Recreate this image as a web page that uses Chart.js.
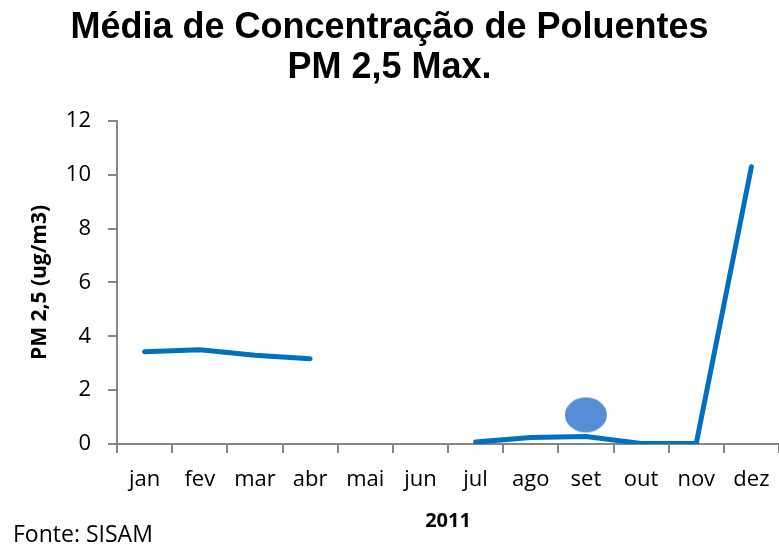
<!DOCTYPE html>
<html>
<head>
<meta charset="utf-8">
<script src="https://cdn.jsdelivr.net/npm/chart.js@4.4.1/dist/chart.umd.min.js"></script>
<style>
  html, body { margin: 0; padding: 0; background: #fff; }
  #wrap { width: 779px; height: 544px; }
</style>
</head>
<body>
<div id="wrap"><canvas id="pmChart" width="779" height="544"></canvas></div>
<script>
const months = ["jan", "fev", "mar", "abr", "mai", "jun", "jul", "ago", "set", "out", "nov", "dez"];
const pmMax = [3.43, 3.5, 3.3, 3.17, null, null, 0.07, 0.24, 0.28, 0.02, 0.02, 10.3];
// the blue oval sitting above "set" in the original
const ovalMark = [null, null, null, null, null, null, null, null, 1.08, null, null, null];
const yTicks = [0, 2, 4, 6, 8, 10, 12];

const labelFont = "'Open Sans', sans-serif";

// ellipse shaped point for the oval
const oval = document.createElement("canvas");
oval.width = 44;
oval.height = 37;
const octx = oval.getContext("2d");
octx.fillStyle = "#558ED5";
octx.beginPath();
octx.ellipse(22, 18.5, 21, 17.5, 0, 0, Math.PI * 2);
octx.fill();

const sourceNote = {
  id: "sourceNote",
  afterDraw(chart) {
    const c = chart.ctx;
    c.save();
    c.fillStyle = "#000";
    c.font = "23px " + labelFont;
    c.textBaseline = "alphabetic";
    c.textAlign = "left";
    c.fillText("Fonte: SISAM", 13, 542);
    c.restore();
  },
};

const ctx = document.getElementById("pmChart").getContext("2d");
const pmChart = new Chart(ctx, {
  type: "line",
  data: {
    labels: months,
    datasets: [
      {
        label: "PM 2,5 Max.",
        data: pmMax,
        borderColor: "#0070C0",
        backgroundColor: "#0070C0",
        borderWidth: 5,
        borderCapStyle: "round",
        borderJoinStyle: "round",
        pointRadius: 0,
        tension: 0,
        spanGaps: false,
      },
      {
        label: "",
        data: ovalMark,
        showLine: false,
        pointStyle: oval,
        pointRadius: 20,
        clip: false,
      },
    ],
  },
  options: {
    responsive: false,
    animation: false,
    layout: { padding: 0, autoPadding: false },
    plugins: {
      legend: { display: false },
      tooltip: { enabled: false },
      title: {
        display: true,
        text: ["Média de Concentração de Poluentes", "PM 2,5 Max."],
        color: "#000",
        font: { family: "'Liberation Sans', Arial, sans-serif", size: 36, weight: "bold", lineHeight: 1.11 },
        padding: { top: 8, bottom: 33 },
      },
    },
    scales: {
      x: {
        offset: true,
        grid: {
          offset: true,
          drawOnChartArea: false,
          color: "#868686",
          lineWidth: 2,
          tickLength: 9,
        },
        border: { color: "#868686", width: 2 },
        ticks: { color: "#000", font: { family: labelFont, size: 22 }, padding: 14, maxRotation: 0 },
        title: {
          display: true,
          text: "2011",
          color: "#000",
          font: { family: labelFont, size: 20, weight: "bold" },
          padding: { top: 11, bottom: 11 },
        },
        afterFit(scale) {
          scale.height = 100;
          scale.paddingLeft = 0;
          scale.paddingRight = 0;
        },
      },
      y: {
        min: 0,
        max: 12,
        afterBuildTicks(scale) { scale.ticks = yTicks.map((v) => ({ value: v })); },
        grid: {
          drawOnChartArea: false,
          color: "#868686",
          lineWidth: 2,
          tickLength: 9,
        },
        border: { color: "#868686", width: 2 },
        ticks: { color: "#000", font: { family: labelFont, size: 22 }, padding: 17 },
        title: {
          display: true,
          text: "PM 2,5 (ug/m3)",
          color: "#000",
          font: { family: labelFont, size: 21, weight: "bold" },
          padding: { top: 27, bottom: 27 },
        },
        afterFit(scale) { scale.width = 117; },
      },
    },
  },
  plugins: [sourceNote],
});
</script>
</body>
</html>
